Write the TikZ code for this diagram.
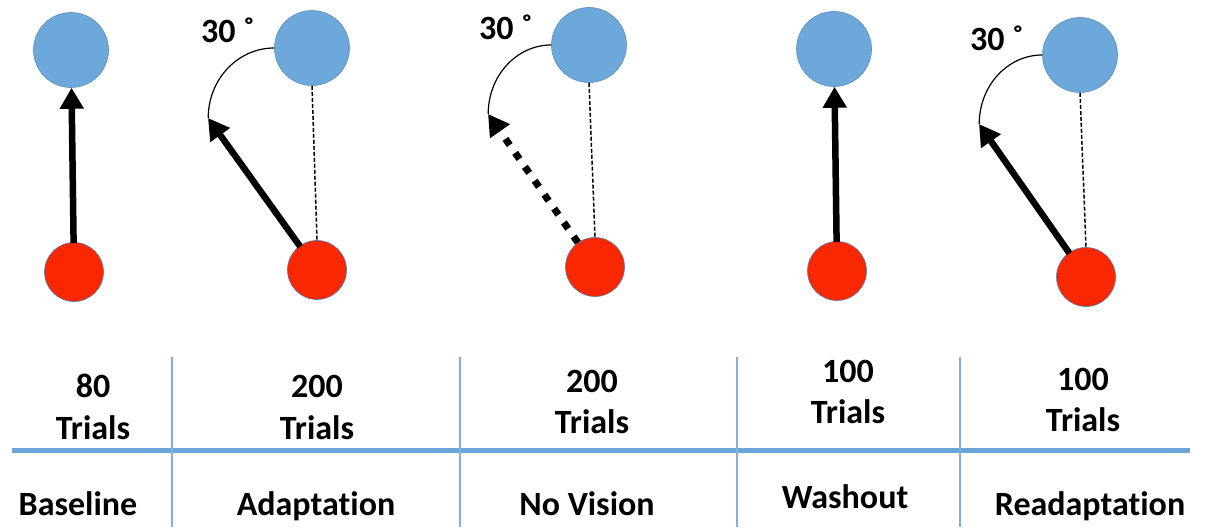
\documentclass[tikz,border=0pt]{standalone}
\usepackage{fontspec}
\setmainfont{Carlito}[Ligatures=NoCommon]
\usetikzlibrary{arrows.meta}
\definecolor{targetblue}{RGB}{108,168,218}
\definecolor{targetedge}{RGB}{90,140,190}
\definecolor{startred}{RGB}{250,40,0}
\definecolor{startedge}{RGB}{90,120,170}
\definecolor{rule}{RGB}{125,178,224}
\definecolor{rulethick}{RGB}{108,164,216}
\tikzset{
  target/.style={circle, fill=targetblue, draw=targetedge, line width=0.6pt, minimum size=75pt, inner sep=0pt},
  start/.style={circle, fill=startred, draw=startedge, line width=0.6pt, minimum size=59pt, inner sep=0pt},
  reach/.style={line width=6.5pt, -{Triangle[length=21pt,width=23pt]}, shorten <=-1pt},
  blindreach/.style={line width=7pt, dash pattern=on 7.5pt off 9.5pt, -{Triangle[length=21pt,width=23pt]}},
  guide/.style={line width=1.5pt, dash pattern=on 4pt off 2pt},
  rotarc/.style={line width=1.2pt},
  lbl/.style={font=\fontsize{34}{40}\selectfont\bfseries, inner sep=0pt, anchor=base},
  deg/.style={font=\fontsize{34}{40}\selectfont\bfseries, inner sep=0pt, anchor=base west},
  vrule/.style={rule, line width=2.6pt},
  hrule/.style={rulethick, line width=5pt}
}
\begin{document}
\begin{tikzpicture}[x=1pt,y=1pt]
\useasboundingbox (0,0) rectangle (1206,527);

% Baseline
\node[target] (b1) at (71,477) {};
\node[start]  (r1) at (74,255) {};
\draw[reach] (r1) -- (b1);

% Adaptation
\node[target] (b2) at (312,479) {};
\node[start]  (r2) at (317,257) {};
\coordinate (t2) at (208,409);
\draw[guide] (b2.south) -- (r2.north);
\draw[reach] (r2) -- (t2);
\draw[rotarc] (b2.west) arc[start angle=90, end angle=180, x radius=66pt, y radius=70pt];
\node[deg] (a2) at (201,484) {30 ˚};

% No Vision
\node[target] (b3) at (589,482) {};
\node[start]  (r3) at (595,260) {};
\coordinate (t3) at (488,413);
\draw[guide] (b3.south) -- (r3.north);
\draw[blindreach] (r3) -- (t3);
\draw[rotarc] (b3.west) arc[start angle=90, end angle=180, x radius=63pt, y radius=69pt];
\node[deg] (a3) at (479,487) {30 ˚};

% Washout
\node[target] (b4) at (834,478) {};
\node[start]  (r4) at (837,256) {};
\draw[reach] (r4) -- (b4);

% Readaptation
\node[target] (b5) at (1080,472) {};
\node[start]  (r5) at (1086,250) {};
\coordinate (t5) at (979,403);
\draw[guide] (b5.south) -- (r5.north);
\draw[reach] (r5) -- (t5);
\draw[rotarc] (b5.west) arc[start angle=90, end angle=180, x radius=63pt, y radius=69pt];
\node[deg] (a5) at (970,476) {30 ˚};

% table rules
\draw[hrule] (12,76) -- (1190,76);
\foreach \x in {172,460,737,960} \draw[vrule] (\x,170) -- (\x,0);

% trial counts
\node[lbl] (n1) at (93,129) {80};
\node[lbl] (c1) at (93,87) {Trials};
\node[lbl] (n2) at (317,129) {200};
\node[lbl] (c2) at (317,87) {Trials};
\node[lbl] (n3) at (592,134) {200};
\node[lbl] (c3) at (592,93) {Trials};
\node[lbl] (n4) at (848,144) {100};
\node[lbl] (c4) at (848,103) {Trials};
\node[lbl] (n5) at (1083,136) {100};
\node[lbl] (c5) at (1083,95) {Trials};

% phase names
\node[lbl] (p1) at (78,12) {Baseline};
\node[lbl] (p2) at (316,12) {Adaptation};
\node[lbl] (p3) at (587,12) {No Vision};
\node[lbl] (p4) at (845,19) {Washout};
\node[lbl] (p5) at (1090,12) {Readaptation};
\end{tikzpicture}
\end{document}
